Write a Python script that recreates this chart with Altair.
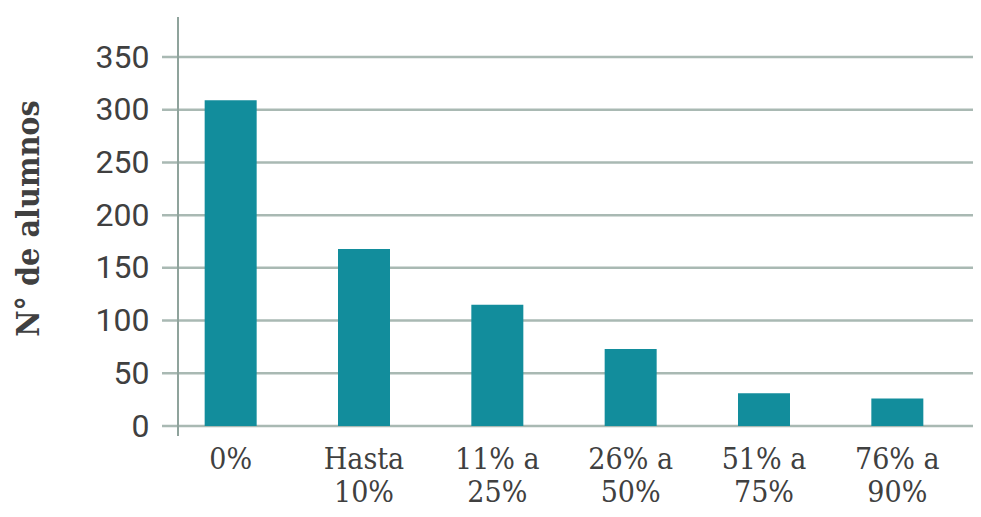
import altair as alt
import pandas as pd

categories = ["0%", "Hasta\n10%", "11% a\n25%", "26% a\n50%", "51% a\n75%", "76% a\n90%"]
alumnos = [309, 168, 115, 73, 31, 26]
y_ticks = [0, 50, 100, 150, 200, 250, 300, 350]

W = 772
H = 369

bars_df = pd.DataFrame({"cat": categories, "n": alumnos})
grid_df = pd.DataFrame({"v": y_ticks})
axis_df = pd.DataFrame({"k": [0]})

yscale = alt.Scale(domain=[0, 350], nice=False, zero=True)
xscale = alt.Scale(domain=categories, paddingInner=0.61, paddingOuter=0.2)

serif = "DejaVu Serif Condensed"
txt = "#404040"

yaxis = alt.Axis(values=y_ticks, grid=False, ticks=False, domain=False,
                 labelFont="Roboto", labelFontSize=32, labelColor=txt,
                 labelPadding=29,
                 title="N° de alumnos", titleFont=serif, titleFontSize=32,
                 titleFontWeight="bold", titleColor=txt,
                 titleAngle=270, titleAlign="center", titleBaseline="middle",
                 titleX=-150, titleY=161)

grid = alt.Chart(grid_df).mark_rule(color="#a9b9b3", strokeWidth=2.5).encode(
    y=alt.Y("v:Q", scale=yscale, axis=yaxis),
    x=alt.value(-16),
    x2=alt.value(W + 23),
)

yline = alt.Chart(axis_df).mark_rule(color="#8fa39c", strokeWidth=2).encode(
    x=alt.value(0),
    y=alt.value(-40),
    y2=alt.value(H + 10),
)

bars = alt.Chart(bars_df).mark_bar(color="#128d9c").encode(
    x=alt.X("cat:N", sort=categories, scale=xscale,
            axis=alt.Axis(title=None, ticks=False, domain=False, grid=False,
                          labelAngle=0, labelFont=serif, labelFontSize=30,
                          labelColor=txt, labelPadding=18, labelLineHeight=33,
                          labelExpr="split(datum.label, '\\n')")),
    y=alt.Y("n:Q", scale=yscale, axis=yaxis),
)

chart = alt.layer(grid, yline, bars).properties(
    width=W, height=H,
    background="white",
    autosize=alt.AutoSizeParams(type="none"),
    padding={"left": 170, "top": 49, "right": 23, "bottom": 83},
).configure_view(stroke=None)

chart.save("out.html", embed_options={"renderer": "svg", "actions": False})
